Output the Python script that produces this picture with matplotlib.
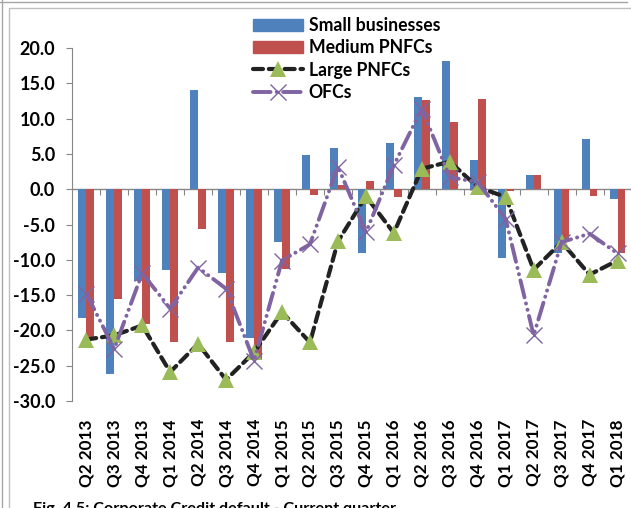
"""Corporate credit default - current quarter (bars + lines)."""

import matplotlib
matplotlib.use("Agg")

import matplotlib.pyplot as plt
import numpy as np
from matplotlib.lines import Line2D
from matplotlib.patches import Rectangle

quarters = [
    "Q2 2013", "Q3 2013", "Q4 2013", "Q1 2014", "Q2 2014", "Q3 2014", "Q4 2014",
    "Q1 2015", "Q2 2015", "Q3 2015", "Q4 2015", "Q1 2016", "Q2 2016", "Q3 2016",
    "Q4 2016", "Q1 2017", "Q2 2017", "Q3 2017", "Q4 2017", "Q1 2018",
]
small_businesses = [
    -18.3, -26.2, -13.0, -11.5, 14.1, -11.9, -21.1, -7.5, 4.8, 5.8,
    -9.0, 6.6, 13.0, 18.2, 4.1, -9.8, 2.0, -9.0, 7.1, -1.4,
]
medium_pnfcs = [
    -21.0, -15.6, -19.1, -21.7, -5.6, -21.7, -24.2, -11.3, -0.8, 0.6,
    1.2, -1.1, 12.7, 9.5, 12.8, -0.2, 2.0, -7.5, -0.9, -9.1,
]
large_pnfcs = [
    -21.3, -20.7, -19.3, -25.9, -21.9, -27.0, -23.1, -17.4, -21.7, -7.4,
    -1.0, -6.2, 2.9, 3.9, 0.3, -1.1, -11.4, -7.5, -12.1, -10.1,
]
ofcs = [
    -14.8, -22.6, -11.9, -16.9, -11.1, -14.1, -24.3, -10.1, -7.8, 3.2,
    -6.1, 3.4, 11.4, 1.7, 1.0, -4.2, -20.7, -7.5, -6.3, -9.1,
]

BLUE = "#4F81BD"
RED = "#C0504D"
GREEN = "#9BBB59"
PURPLE = "#8064A2"
DARK = "#222222"
GREY = "#868686"
FONT = ["Lato", "DejaVu Sans"]

plt.rcParams["font.family"] = FONT
plt.rcParams["font.weight"] = "bold"

W, H = 631, 508
fig = plt.figure(figsize=(W / 100, H / 100), dpi=100)

# axes in pixel terms: x 72.3..631.5, y 48..401 (from top)
ax = fig.add_axes([72.3 / W, 1 - 401 / H, (631.5 - 72.3) / W, (401 - 48) / H])

x = np.arange(len(quarters))
bw = 0.28
ax.bar(x - bw / 2, small_businesses, bw, color=BLUE, zorder=2)
ax.bar(x + bw / 2, medium_pnfcs, bw, color=RED, zorder=2)

ax.plot(x, large_pnfcs, color=DARK, lw=3, dashes=(2.4, 1.4),
        dash_capstyle="round", zorder=3)
ax.plot(x, large_pnfcs, ls="none", marker="^", ms=11, color=GREEN,
        markeredgewidth=0, zorder=4)
ax.plot(x, ofcs, color=PURPLE, lw=2.8, dashes=(4.5, 1.6, 0.05, 1.6, 0.05, 1.6),
        dash_capstyle="round", zorder=5)
ax.plot(x, ofcs, ls="none", marker="x", ms=11, color=PURPLE,
        markeredgewidth=1, zorder=6)

ax.set_xlim(-0.5, len(quarters) - 0.5)
ax.set_ylim(-30, 20)
ax.set_yticks(np.arange(-30, 21, 5))
ax.set_yticklabels([f"{v:.1f}" for v in np.arange(-30, 21, 5)])

for side in ("top", "right", "bottom"):
    ax.spines[side].set_visible(False)
ax.spines["left"].set_color(GREY)
ax.tick_params(axis="y", direction="out", length=4.3, width=0.8, color=GREY,
               pad=8, labelsize=13)

# category axis line at zero with small boundary ticks
ax.axhline(0, color=GREY, lw=1, zorder=1)
bounds = np.arange(len(quarters) + 1) - 0.5
ax.vlines(bounds[1:-1], -0.85, 0, color=GREY, lw=0.8, zorder=1)

ax.set_xticks(x)
ax.set_xticklabels(quarters, rotation=90, fontsize=12.3)
ax.tick_params(axis="x", length=0, pad=13)

handles = [
    Rectangle((0, 0), 1, 1, color=BLUE),
    Rectangle((0, 0), 1, 1, color=RED),
    Line2D([], [], color=DARK, lw=3, dashes=(2.4, 1.4), dash_capstyle="round",
           marker="^", ms=11, markerfacecolor=GREEN, markeredgewidth=0),
    Line2D([], [], color=PURPLE, lw=2.8, dashes=(4.5, 1.6, 0.05, 1.6),
           dash_capstyle="round", marker="x", ms=11,
           markeredgecolor=PURPLE, markeredgewidth=1),
]
fig.legend(handles, ["Small businesses", "Medium PNFCs", "Large PNFCs", "OFCs"],
           loc="upper left", bbox_to_anchor=(253 / W, 1 - 17 / H),
           frameon=False, fontsize=12.7, handlelength=2.85, handletextpad=0.3,
           labelspacing=0.3, borderpad=0, borderaxespad=0)

# screenshot frame lines
fig.add_artist(Line2D([0, 627 / W], [1 - 2 / H, 1 - 2 / H], color="#A6A6A6", lw=1))
fig.add_artist(Line2D([2 / W, 2 / W], [0, 1], color="#A6A6A6", lw=1))
fig.add_artist(Rectangle((9 / W, -0.1), 1, 1 - 8 / H + 0.1, fill=False,
                         edgecolor="#BFBFBF", lw=1))

fig.text(33 / W, 1 - 502 / H, "Fig. 4.5: Corporate Credit default - Current quarter",
         ha="left", va="top", fontsize=11.6, fontweight="bold")

fig.savefig("out.png", dpi=100)
